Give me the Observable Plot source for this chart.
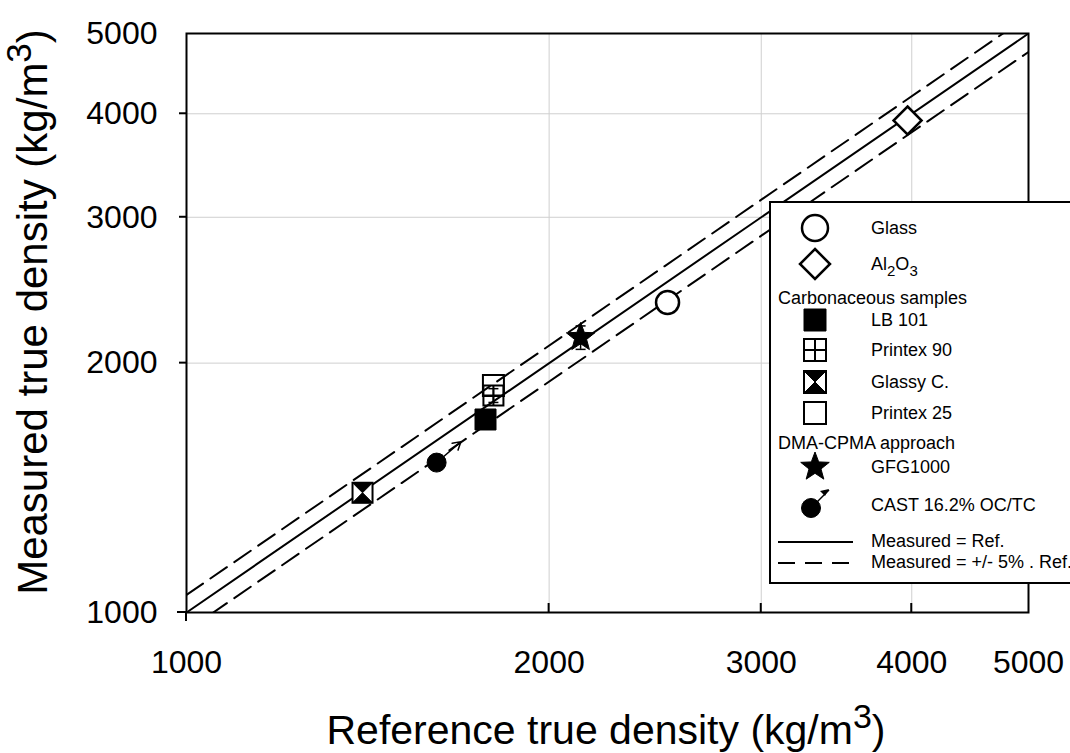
<!DOCTYPE html>
<html><head><meta charset="utf-8">
<script src="https://cdn.jsdelivr.net/npm/d3@7"></script>
<script src="https://cdn.jsdelivr.net/npm/@observablehq/plot@0.6"></script>
<style>
body{margin:0;background:#fff;}
#chart svg{display:block;}
</style>
</head><body><div id="chart"></div>
<script>
// ---- data ----
const samples = ["Glass", "Al2O3", "LB 101", "Printex 90", "Glassy C.", "Printex 25", "GFG1000", "CAST 16.2% OC/TC"];
const refDensity = [2508, 3968, 1771, 1798, 1400, 1798, 2124, 1613];
const measDensity = [2367, 3926, 1710, 1828, 1395, 1879, 2148, 1517];
const measError = [0, 0, 0, 35, 0, 0, 70, 0];
const castArrowTip = [1690, 1608];
const axisTicks = [1000, 2000, 3000, 4000, 5000];
const gridTicks = [2000, 3000, 4000];
const lineFactors = [1, 1.05, 0.95];
const lineRange = [1000, 5000];

// ---- symbols ----
function sym(fn) { return {draw(ctx, size) { const r = Math.sqrt(size / Math.PI); fn(ctx, r); }}; }
const sqPath = (ctx, r) => { ctx.moveTo(-r, -r); ctx.lineTo(r, -r); ctx.lineTo(r, r); ctx.lineTo(-r, r); ctx.closePath(); };
const square = sym(sqPath);
const squareCross = sym((ctx, r) => { sqPath(ctx, r); ctx.moveTo(0, -r); ctx.lineTo(0, r); ctx.moveTo(-r, 0); ctx.lineTo(r, 0); });
const hourglass = sym((ctx, r) => { ctx.moveTo(-r, -r); ctx.lineTo(r, -r); ctx.lineTo(0, 0); ctx.closePath(); ctx.moveTo(-r, r); ctx.lineTo(r, r); ctx.lineTo(0, 0); ctx.closePath(); });
const diamond = sym((ctx, r) => { ctx.moveTo(0, -r); ctx.lineTo(r, 0); ctx.lineTo(0, r); ctx.lineTo(-r, 0); ctx.closePath(); });
const star = sym((ctx, r) => { for (let i = 0; i < 10; i++) { const a = -Math.PI / 2 + i * Math.PI / 5; const rr = i % 2 ? r * 0.42 : r; const x = rr * Math.cos(a), y = rr * Math.sin(a); i ? ctx.lineTo(x, y) : ctx.moveTo(x, y); } ctx.closePath(); });
const circle = sym((ctx, r) => { ctx.moveTo(r, 0); ctx.arc(0, 0, r, 0, 2 * Math.PI); });
const hline = sym((ctx, r) => { ctx.moveTo(-r, 0); ctx.lineTo(r, 0); });

const styles = {
  "Glass": [{symbol: circle, fill: "white", stroke: "black", strokeWidth: 2.5, r: 11.5}],
  "Al2O3": [{symbol: diamond, fill: "white", stroke: "black", strokeWidth: 2.5, r: 14}],
  "LB 101": [{symbol: square, fill: "black", stroke: "black", strokeWidth: 1, r: 10.5}],
  "Printex 90": [{symbol: squareCross, fill: "none", stroke: "black", strokeWidth: 2, r: 10}],
  "Glassy C.": [{symbol: square, fill: "white", stroke: "black", strokeWidth: 2, r: 10}, {symbol: hourglass, fill: "black", stroke: "black", strokeWidth: 1, r: 10}],
  "Printex 25": [{symbol: square, fill: "none", stroke: "black", strokeWidth: 2, r: 10.5}],
  "GFG1000": [{symbol: star, fill: "black", stroke: "black", strokeWidth: 1, r: 15}],
  "CAST 16.2% OC/TC": [{symbol: circle, fill: "black", stroke: "black", strokeWidth: 1, r: 9.5}]
};

const rows = samples.map((s, i) => ({name: s, x: refDensity[i], y: measDensity[i], err: measError[i]}));
const errRows = rows.filter(d => d.err > 0);
const lines = lineFactors.flatMap(f => lineRange.map(v => ({f, x: v, y: v * f})));
const cast = rows.find(d => d.name.startsWith("CAST"));

const font = "'Liberation Sans', Arial, sans-serif";

const dotMarks = rows.flatMap(d => styles[d.name].map(st => Plot.dot([d], {x: "x", y: "y", ...st})));

const plot = Plot.plot({
  width: 1070, height: 753,
  marginLeft: 186, marginRight: 42, marginTop: 33, marginBottom: 141,
  style: {fontFamily: font, background: "white", overflow: "visible"},
  x: {type: "log", domain: [1000, 5000]},
  y: {type: "log", domain: [1000, 5000]},
  marks: [
    Plot.gridX(gridTicks, {stroke: "#cfcfcf", strokeOpacity: 1, strokeWidth: 1}),
    Plot.gridY(gridTicks, {stroke: "#cfcfcf", strokeOpacity: 1, strokeWidth: 1}),
    Plot.axisX(axisTicks, {tickSize: 0, tickPadding: 38, fontSize: 32, tickFormat: d3.format("d"), label: null, fill: "black"}),
    Plot.axisY(axisTicks, {tickSize: 0, tickPadding: 29, fontSize: 32, tickFormat: d3.format("d"), label: null, fill: "black"}),
    Plot.line(lines.filter(d => d.f === 1), {x: "x", y: "y", stroke: "black", strokeWidth: 2, clip: true}),
    Plot.line(lines.filter(d => d.f !== 1), {x: "x", y: "y", z: "f", stroke: "black", strokeWidth: 2, strokeDasharray: "20,9", clip: true}),
    Plot.ruleX(errRows, {x: "x", y1: d => d.y - d.err, y2: d => d.y + d.err, stroke: "black", strokeWidth: 1.5}),
    Plot.dot(errRows, {x: "x", y: d => d.y - d.err, symbol: hline, r: 5, stroke: "black", strokeWidth: 1.5}),
    Plot.dot(errRows, {x: "x", y: d => d.y + d.err, symbol: hline, r: 5, stroke: "black", strokeWidth: 1.5}),
    Plot.arrow([cast], {x1: "x", y1: "y", x2: () => castArrowTip[0], y2: () => castArrowTip[1], stroke: "black", strokeWidth: 1.5, headLength: 9, insetStart: 9}),
    ...dotMarks,
    Plot.frame({stroke: "black", strokeWidth: 2})
  ]
});

document.getElementById("chart").appendChild(plot);

const svg = d3.select(plot);
const sx = plot.scale("x"), sy = plot.scale("y");
const x0 = sx.apply(1000), y0 = sy.apply(1000);

// tick marks
const tk = svg.append("g").attr("stroke", "black").attr("stroke-width", 2);
gridTicks.forEach(v => {
  tk.append("line").attr("x1", sx.apply(v)).attr("x2", sx.apply(v)).attr("y1", y0).attr("y2", y0 - 9);
  tk.append("line").attr("x1", x0).attr("x2", x0 - 7).attr("y1", sy.apply(v)).attr("y2", sy.apply(v));
});
tk.append("line").attr("x1", x0).attr("x2", x0).attr("y1", y0).attr("y2", y0 + 9);
tk.append("line").attr("x1", x0).attr("x2", x0 - 9).attr("y1", y0).attr("y2", y0);

// axis titles
const xt = svg.append("text").attr("x", 606).attr("y", 744).attr("text-anchor", "middle")
  .attr("font-family", font).attr("font-size", 41).attr("fill", "black");
xt.append("tspan").text("Reference true density (kg/m");
xt.append("tspan").attr("dy", -16).attr("font-size", 34).text("3");
xt.append("tspan").attr("dy", 16).text(")");

const yt = svg.append("text").attr("transform", "translate(47,312) rotate(-90)").attr("text-anchor", "middle")
  .attr("font-family", font).attr("font-size", 42).attr("fill", "black");
yt.append("tspan").text("Measured true density (kg/m");
yt.append("tspan").attr("dy", -16).attr("font-size", 35).text("3");
yt.append("tspan").attr("dy", 16).text(")");

// legend
const lg = svg.append("g").attr("font-family", font).attr("font-size", 18).attr("fill", "black").attr("text-anchor", "start");
lg.append("rect").attr("x", 770).attr("y", 202).attr("width", 320).attr("height", 381)
  .attr("fill", "white").attr("stroke", "black").attr("stroke-width", 2);
const legendRows = [
  {name: "Glass", y: 228, r: 13},
  {name: "Al2O3", y: 264, r: 15},
  {header: "Carbonaceous samples", y: 298},
  {name: "LB 101", y: 320, r: 11},
  {name: "Printex 90", y: 350, r: 11},
  {name: "Glassy C.", y: 382, r: 11},
  {name: "Printex 25", y: 413, r: 11},
  {header: "DMA-CPMA approach", y: 443},
  {name: "GFG1000", y: 467, r: 15},
  {name: "CAST 16.2% OC/TC", y: 505, r: 9.5}
];
legendRows.forEach(row => {
  if (row.header) {
    lg.append("text").attr("x", 778).attr("y", row.y).attr("dy", "0.35em").text(row.header);
    return;
  }
  const cx = row.name.startsWith("CAST") ? 811 : 815;
  const cy = row.name.startsWith("CAST") ? row.y + 3 : row.y;
  styles[row.name].forEach(st => {
    lg.append("path").attr("transform", `translate(${cx},${cy})`)
      .attr("d", d3.symbol(st.symbol, row.r * row.r * Math.PI)())
      .attr("fill", st.fill).attr("stroke", st.stroke).attr("stroke-width", st.strokeWidth);
  });
  if (row.name.startsWith("CAST")) {
    lg.append("line").attr("x1", cx + 6).attr("y1", cy - 6).attr("x2", 829).attr("y2", row.y - 15).attr("stroke", "black").attr("stroke-width", 1.5);
    lg.append("path").attr("d", `M829,${row.y - 16} l-9,2 l5,5 z`).attr("fill", "black");
  }
  const t = lg.append("text").attr("x", 871).attr("y", row.y).attr("dy", "0.35em");
  if (row.name === "Al2O3") {
    t.append("tspan").text("Al");
    t.append("tspan").attr("dy", 6).attr("font-size", 15).text("2");
    t.append("tspan").attr("dy", -6).text("O");
    t.append("tspan").attr("dy", 6).attr("font-size", 15).text("3");
  } else {
    t.text(row.name);
  }
});
lg.append("line").attr("x1", 778).attr("x2", 853).attr("y1", 542).attr("y2", 542).attr("stroke", "black").attr("stroke-width", 2);
lg.append("text").attr("x", 871).attr("y", 541).attr("dy", "0.35em").text("Measured = Ref.");
lg.append("line").attr("x1", 778).attr("x2", 853).attr("y1", 563).attr("y2", 563).attr("stroke", "black").attr("stroke-width", 2).attr("stroke-dasharray", "17,10");
lg.append("text").attr("x", 871).attr("y", 562).attr("dy", "0.35em").text("Measured = +/- 5% . Ref.");
</script>
</body></html>
